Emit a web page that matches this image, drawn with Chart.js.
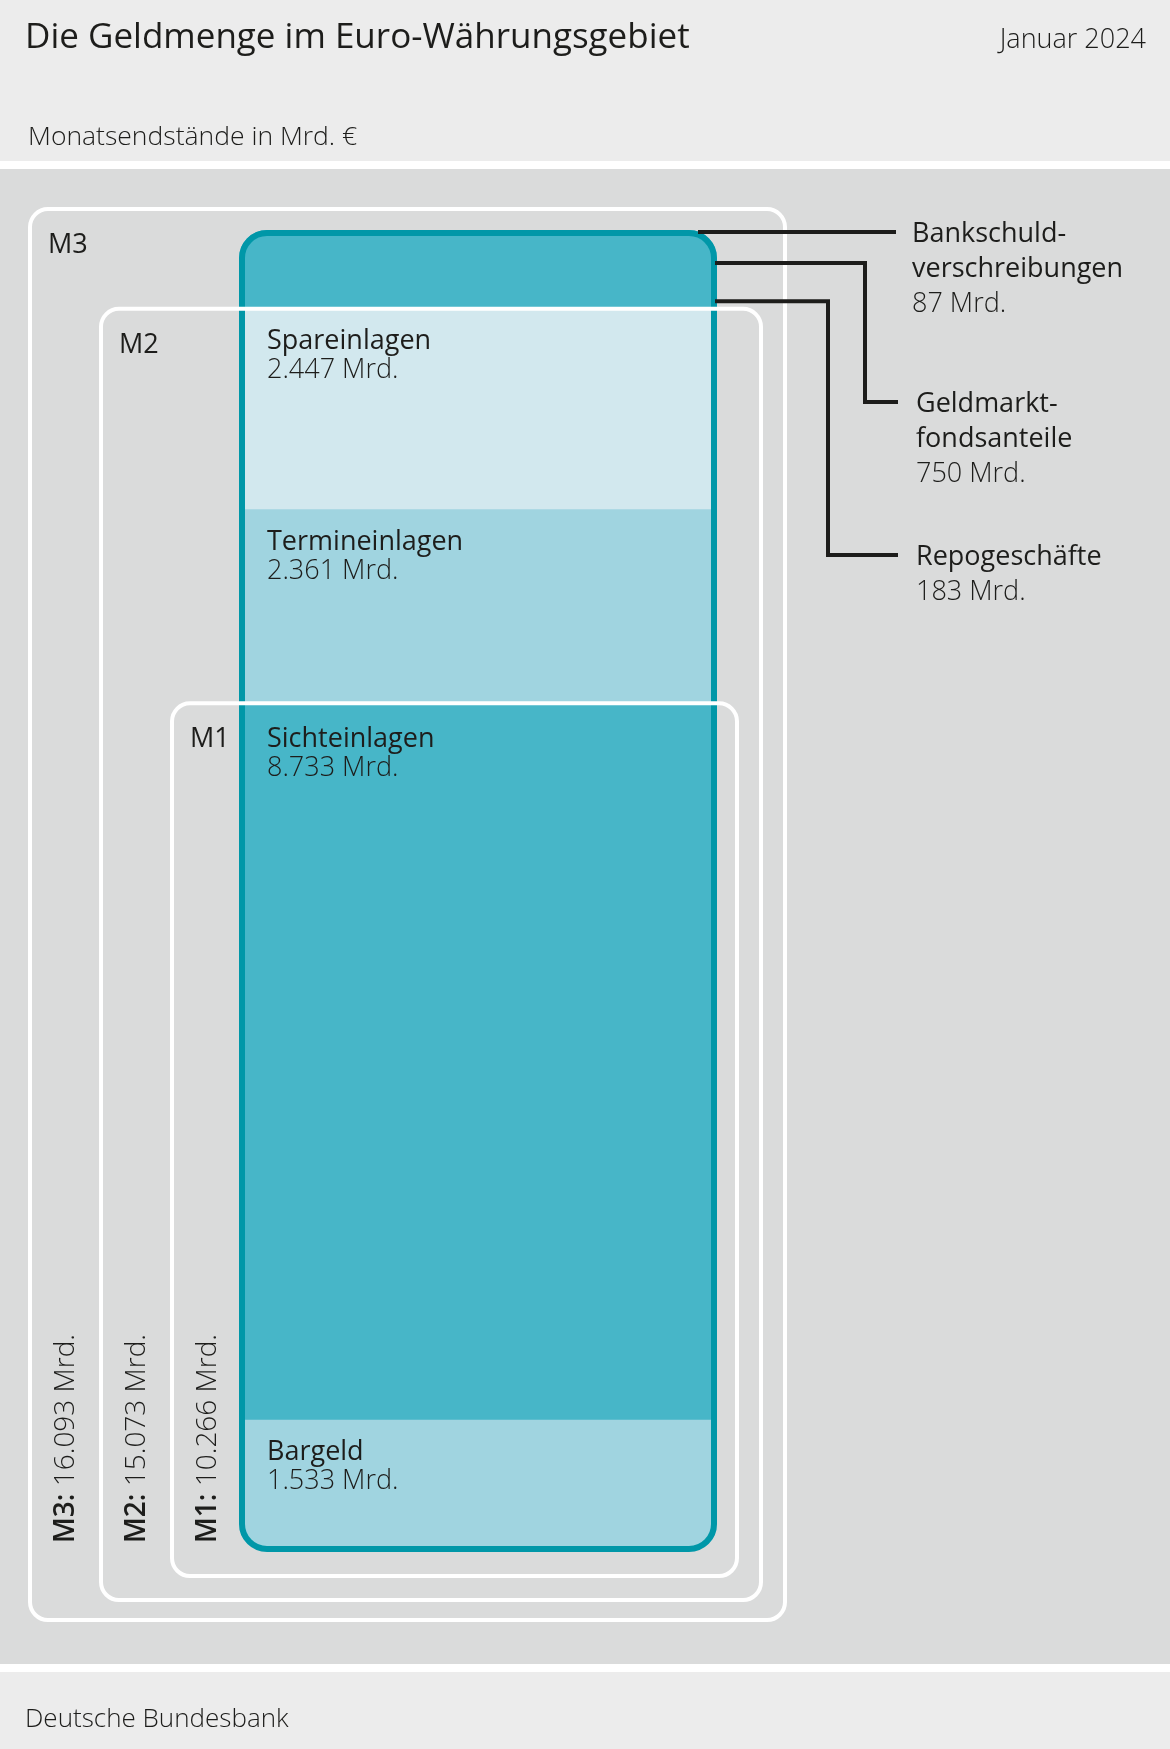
<!DOCTYPE html>
<html lang="de">
<head>
<meta charset="utf-8">
<title>Die Geldmenge im Euro-Währungsgebiet</title>
<script src="https://cdn.jsdelivr.net/npm/chart.js@4.4.1/dist/chart.umd.min.js"></script>
<style>
  html, body { margin: 0; padding: 0; background: #ececec; }
  #wrap { position: relative; width: 1170px; height: 1749px; }
</style>
</head>
<body>
<div id="wrap"><canvas id="geldmenge" width="1170" height="1749"></canvas></div>
<script>
// Komponenten der Geldmenge, von unten nach oben (Mrd. €, Januar 2024)
const komponenten = ['Bargeld', 'Sichteinlagen', 'Termineinlagen', 'Spareinlagen',
                     'Repogeschäfte', 'Geldmarktfondsanteile', 'Bankschuldverschreibungen'];
const werte = [1533, 8733, 2361, 2447, 183, 750, 87];
const farben = ['#a0d4e0', '#47b6c8', '#a0d4e0', '#d2e8ee', '#47b6c8', '#47b6c8', '#47b6c8'];

// Beschriftung der drei kleinen Komponenten rechts neben dem Balken
const aussenLabels = [null, null, null, null,
                      ['Repogeschäfte'], ['Geldmarkt-', 'fondsanteile'], ['Bankschuld-', 'verschreibungen']];

// Geldmengenaggregate
const aggregate = ['M1', 'M2', 'M3'];
const aggregatWerte = [10266, 15073, 16093];

const FONT = "'Open Sans', 'Noto Sans', sans-serif";
const TEXT = '#1d1d1b';
const RAND = '#0097a8';

function fmt(v) {
  return String(v).replace(/\B(?=(\d{3})+(?!\d))/g, '.') + ' Mrd.';
}

function rundRect(ctx, x, y, w, h, r) {
  ctx.beginPath();
  ctx.moveTo(x + r, y);
  ctx.arcTo(x + w, y, x + w, y + h, r);
  ctx.arcTo(x + w, y + h, x, y + h, r);
  ctx.arcTo(x, y + h, x, y, r);
  ctx.arcTo(x, y, x + w, y, r);
  ctx.closePath();
}

// äußere Kante des Balkens (oben etwas eingerückt, unten etwas überstehend)
function stapel(chart) {
  const first = chart.getDatasetMeta(0).data[0];
  const last = chart.getDatasetMeta(chart.data.datasets.length - 1).data[0];
  return {
    left: first.x - first.width / 2,
    right: first.x + first.width / 2,
    top: last.y + 5,
    base: first.base + 6
  };
}

const geldmengePlugin = {
  id: 'geldmenge',
  beforeDraw(chart) {
    const { ctx, width, height } = chart;
    ctx.save();
    ctx.fillStyle = '#ececec';
    ctx.fillRect(0, 0, width, height);
    ctx.fillStyle = '#ffffff';
    ctx.fillRect(0, 161, width, 8);
    ctx.fillRect(0, 1664, width, 8);
    ctx.fillStyle = '#dadbdb';
    ctx.fillRect(0, 169, width, 1495);

    ctx.fillStyle = TEXT;
    ctx.textBaseline = 'alphabetic';
    ctx.font = '500 35px ' + FONT;
    ctx.fillText('Die Geldmenge im Euro-Währungsgebiet', 25, 48);
    ctx.font = '300 27px ' + FONT;
    ctx.textAlign = 'right';
    ctx.fillText('Januar 2024', 1146, 48);
    ctx.textAlign = 'left';
    ctx.font = '300 26.5px ' + FONT;
    ctx.fillText('Monatsendstände in Mrd. €', 28, 145);
    ctx.font = '300 26px ' + FONT;
    ctx.fillText('Deutsche Bundesbank', 25, 1727);
    ctx.restore();
  },
  beforeDatasetsDraw(chart) {
    const s = stapel(chart);
    const ctx = chart.ctx;
    ctx.save();
    rundRect(ctx, s.left, s.top, s.right - s.left, s.base - s.top, 28);
    ctx.clip();
  },
  afterDatasetsDraw(chart) {
    const { ctx } = chart;
    ctx.restore();
    const s = stapel(chart);
    const y = chart.scales.y;
    const basis = chart.getDatasetMeta(0).data[0].base;

    // Rahmen um den Balken
    ctx.save();
    ctx.strokeStyle = RAND;
    ctx.lineWidth = 6;
    rundRect(ctx, s.left + 3, s.top + 3, s.right - s.left - 6, s.base - s.top - 6, 25);
    ctx.stroke();
    ctx.restore();

    // weiße Rahmen für M1, M2, M3
    const abstand = [{ l: 67, r: 20, b: 30, t: 0 }, { l: 138, r: 44, b: 54, t: 0 }, { l: 209, r: 68, b: 74, t: 16 }];
    ctx.save();
    ctx.strokeStyle = '#ffffff';
    ctx.lineWidth = 4;
    aggregate.forEach((name, i) => {
      const a = abstand[i];
      const x0 = s.left - a.l, x1 = s.right + a.r;
      const y0 = y.getPixelForValue(aggregatWerte[i]) - a.t, y1 = basis + a.b;
      rundRect(ctx, x0, y0, x1 - x0, y1 - y0, 18);
      ctx.stroke();

      ctx.fillStyle = TEXT;
      ctx.font = '500 27px ' + FONT;
      ctx.fillText(name, x0 + 18, y0 + 44);

      // senkrechte Summenbeschriftung
      ctx.save();
      ctx.translate(x0 + 44, basis - 3);
      ctx.rotate(-Math.PI / 2);
      ctx.font = '600 28px ' + FONT;
      const kopf = name + ': ';
      ctx.fillText(kopf, 0, 0);
      const w = ctx.measureText(kopf).width;
      ctx.font = '300 28px ' + FONT;
      ctx.fillText(fmt(aggregatWerte[i]), w, 0);
      ctx.restore();
    });
    ctx.restore();

    // Beschriftungen im Balken
    ctx.save();
    ctx.fillStyle = TEXT;
    komponenten.forEach((name, i) => {
      if (aussenLabels[i]) return;
      const el = chart.getDatasetMeta(i).data[0];
      const dy = i === 1 ? 44 : 40;
      ctx.font = '500 27px ' + FONT;
      ctx.fillText(name, s.left + 28, el.y + dy);
      ctx.font = '300 27px ' + FONT;
      ctx.fillText(fmt(werte[i]), s.left + 28, el.y + dy + 29);
    });
    ctx.restore();

    // Beschriftungen rechts mit Hinweislinien
    const knick = { 4: { x: 828, y: 555 }, 5: { x: 865, y: 402 } };
    ctx.save();
    ctx.strokeStyle = TEXT;
    ctx.fillStyle = TEXT;
    ctx.lineWidth = 4;
    komponenten.forEach((name, i) => {
      const zeilen = aussenLabels[i];
      if (!zeilen) return;
      const el = chart.getDatasetMeta(i).data[0];
      let ym = (el.y + el.base) / 2;
      let ty;
      ctx.beginPath();
      if (knick[i]) {
        ctx.moveTo(s.right - 2, ym);
        ctx.lineTo(knick[i].x, ym);
        ctx.lineTo(knick[i].x, knick[i].y);
        ctx.lineTo(898, knick[i].y);
        ty = knick[i].y;
      } else {
        ym = Math.max(ym, s.top + 2);
        ctx.moveTo(s.right - 19, ym);
        ctx.lineTo(896, ym);
        ty = ym;
      }
      ctx.stroke();
      const tx = knick[i] ? 916 : 912;
      ctx.font = '500 27px ' + FONT;
      zeilen.forEach((z, k) => ctx.fillText(z, tx, ty + 10 + k * 35));
      ctx.font = '300 27px ' + FONT;
      ctx.fillText(fmt(werte[i]), tx, ty + 10 + zeilen.length * 35);
    });
    ctx.restore();
  }
};

new Chart(document.getElementById('geldmenge'), {
  type: 'bar',
  data: {
    labels: ['Januar 2024'],
    datasets: komponenten.map((name, i) => ({
      label: name,
      data: [werte[i]],
      backgroundColor: farben[i],
      borderWidth: 0,
      barPercentage: 1,
      categoryPercentage: 1
    }))
  },
  options: {
    responsive: false,
    animation: false,
    layout: { padding: { left: 239, right: 453, top: 225, bottom: 203 } },
    plugins: { legend: { display: false }, tooltip: { enabled: false } },
    scales: {
      x: { stacked: true, display: false },
      y: { stacked: true, display: false, min: 0, max: werte.reduce((a, b) => a + b, 0) }
    }
  },
  plugins: [geldmengePlugin]
});
</script>
</body>
</html>
